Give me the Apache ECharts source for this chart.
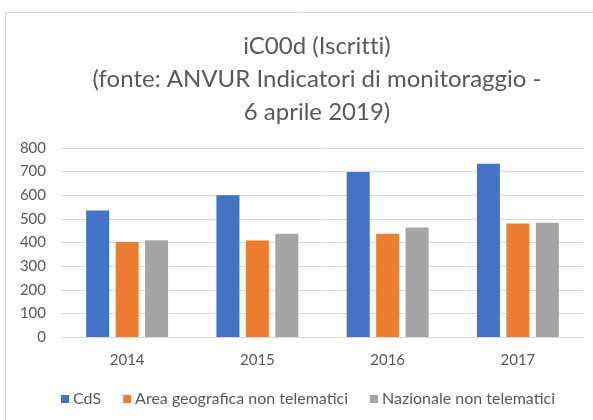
<!DOCTYPE html>
<html>
<head>
<meta charset="utf-8">
<script src="https://cdn.jsdelivr.net/npm/echarts@6/dist/echarts.min.js"></script>
<style>
  html, body { margin: 0; padding: 0; background: #fff; }
  #chart { width: 593px; height: 420px; }
</style>
</head>
<body>
<div id="chart"></div>
<script>
// dati
const anni = ['2014', '2015', '2016', '2017'];
const cds = [535, 600, 698, 733];
const areaGeografica = [402, 408, 437, 480];
const nazionale = [410, 437, 464, 484];
const nomiSerie = ['CdS', 'Area geografica non telematici', 'Nazionale non telematici'];
// \u200C evita la legatura "tti" di Lato
const titolo = 'iC00d (Iscrit\u200Ct\u200Ci)\n(fonte: ANVUR Indicatori di monitoraggio -\n6 aprile 2019)';

const font = 'Lato, "Open Sans", sans-serif';
const grigioTesto = '#595959';
const grigioLinee = '#d9d9d9';

const myChart = echarts.init(document.getElementById('chart'));

const options = {
    animation: false,
    color: ['#4472C4', '#ED7D31', '#A5A5A5'],
    title: {
        text: titolo,
        left: 312,
        top: 25,
        textAlign: 'center',
        textStyle: {
            fontFamily: font,
            fontSize: 24,
            fontWeight: 'normal',
            color: grigioTesto,
            lineHeight: 33,
            align: 'center'
        }
    },
    graphic: [{
        type: 'rect',
        shape: { x: 5.5, y: 12.5, width: 700, height: 500 },
        style: { fill: 'none', stroke: grigioLinee, lineWidth: 1 },
        silent: true
    }],
    legend: {
        data: nomiSerie,
        left: 56,
        top: 386,
        itemWidth: 8,
        itemHeight: 8,
        itemGap: 22,
        icon: 'rect',
        textStyle: {
            fontFamily: font,
            fontSize: 16,
            color: grigioTesto,
            padding: [0, 0, 0, -1]
        }
    },
    grid: {
        left: 62,
        right: 10,
        top: 148,
        bottom: 83
    },
    xAxis: {
        type: 'category',
        data: anni,
        axisLine: { lineStyle: { color: grigioLinee, width: 1 } },
        axisTick: { show: false },
        axisLabel: {
            fontFamily: font,
            fontSize: 15,
            color: grigioTesto,
            margin: 16
        }
    },
    yAxis: {
        type: 'value',
        min: 0,
        max: 800,
        interval: 100,
        axisLine: { show: false },
        axisTick: { show: false },
        axisLabel: {
            fontFamily: font,
            fontSize: 15,
            color: grigioTesto,
            margin: 16
        },
        splitLine: { lineStyle: { color: grigioLinee, width: 1 } }
    },
    series: [
        { name: nomiSerie[0], type: 'bar', data: cds, barWidth: 23, barGap: '28%' },
        { name: nomiSerie[1], type: 'bar', data: areaGeografica, barWidth: 23, barGap: '28%' },
        { name: nomiSerie[2], type: 'bar', data: nazionale, barWidth: 23, barGap: '28%' }
    ]
};

myChart.setOption(options);
</script>
</body>
</html>
